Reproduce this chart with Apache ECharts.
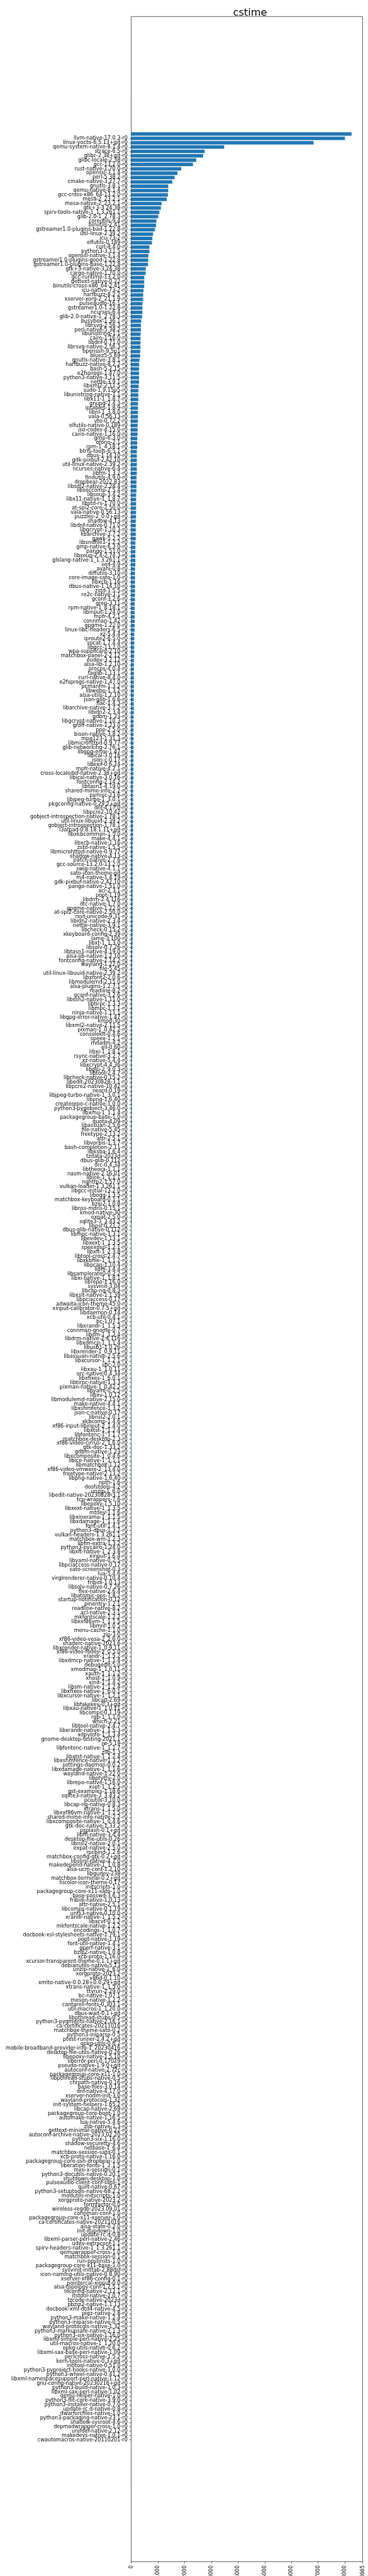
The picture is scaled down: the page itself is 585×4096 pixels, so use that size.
<!DOCTYPE html>
<html>
<head>
<meta charset="utf-8">
<script src="https://cdn.jsdelivr.net/npm/echarts@6/dist/echarts.min.js"></script>
<style>
html,body{margin:0;padding:0;background:#fff;}
#chart{width:585px;height:4096px;}
</style>
</head>
<body>
<div id="chart"></div>
<script>
const chartTitle = "cstime";

const packages = [
"rust-llvm-native-1.70.0-r0","llvm-native-17.0.3-r0","linux-yocto-6.5.13+git-r0","qemu-system-native-8.1.4-r0","strace-6.5-r0",
"glibc-2.38+git-r0","glibc-locale-2.38-r0","gcc-13.2.0-r0","rust-native-1.70.0-r0","openssl-3.1.4-r0",
"perl-5.38.2-r0","cmake-native-3.27.7-r0","gnutls-3.8.1-r0","qemu-native-8.1.4-r0","gcc-cross-x86_64-13.2.0-r0",
"mesa-2_23.2.1-r0","mesa-native-2_23.2.1-r0","gtk+3-3.24.38-r0","spirv-tools-native-1_1.3.261.1-r0","glib-2.0-1_2.78.3-r0",
"coreutils-9.4-r0","binutils-2.41-r0","gstreamer1.0-plugins-bad-1.22.8-r0","util-linux-2.39.2-r0","icu-73-2-r0",
"elfutils-0.189-r0","curl-8.4.0-r0","python3-3.11.5-r0","openssl-native-3.1.4-r0","gstreamer1.0-plugins-good-1.22.8-r0",
"gstreamer1.0-plugins-base-1.22.8-r0","gtk+3-native-3.24.38-r0","cargo-native-1.70.0-r0","gcc-runtime-13.2.0-r0","gettext-native-0.22-r0",
"binutils-cross-x86_64-2.41-r0","icu-native-73-2-r0","harfbuzz-8.2.2-r0","xserver-xorg-2_21.1.9-r0","pulseaudio-16.1-r0",
"gstreamer1.0-1.22.8-r0","ncurses-6.4-r0","glib-2.0-native-1_2.78.3-r0","busybox-1.36.1-r0","librsvg-2.56.3-r0",
"perl-native-5.38.2-r0","libunistring-1.1-r0","cairo-1.16.0-r0","libdnf-0.71.0-r0","librsvg-native-2.56.3-r0",
"openssh-9.5p1-r0","bluez5-5.69-r0","gnutls-native-3.8.1-r0","harfbuzz-native-8.2.2-r0","bash-5.2.15-r0",
"e2fsprogs-1.47.0-r0","python3-native-3.11.5-r0","nettle-3.9.1-r0","libxml2-2.11.5-r0","sudo-1.9.15p5-r0",
"libunistring-native-1.1-r0","libx11-1_1.8.7-r0","gnupg-2.4.3-r0","iptables-1.8.9-r0","libnl-1_3.8.0-r0",
"vala-0.56.13-r0","vte-0.72.2-r0","elfutils-native-0.189-r0","iso-codes-4.15.0-r0","cairo-native-1.16.0-r0",
"gmp-6.3.0-r0","ofono-2.1-r0","rpm-1_4.18.1-r0","btrfs-tools-6.5.1-r0","dbus-1.14.10-r0",
"gdk-pixbuf-2.42.10-r0","util-linux-native-2.39.2-r0","ncurses-native-6.4-r0","libfm-1.3.2-r0","findutils-4.9.0-r0",
"dropbear-2022.83-r0","libsdl2-native-2.28.4-r0","libseccomp-2.5.4-r0","libsoup-3.4.2-r0","libx11-native-1_1.8.7-r0",
"libstd-rs-1.70.0-r0","at-spi2-core-2.50.0-r0","vala-native-0.56.13-r0","puzzles-2_0.0+git-r0","shadow-4.13-r0",
"libdnf-native-0.71.0-r0","libgcrypt-1.10.3-r0","libarchive-3.7.2-r0","gawk-5.2.2-r0","libsndfile1-1.2.2-r0",
"gmp-native-6.3.0-r0","pango-1.51.0-r0","libsoup-2.4-2.74.3-r0","glslang-native-1_1.3.261.1-r0","sed-4.9-r0",
"avahi-0.8-r0","diffutils-3.10-r0","core-image-sato-1.0-r0","libxcb-1.16-r0","dbus-native-1.14.10-r0",
"zstd-1.5.5-r0","re2c-native-3.1-r0","gconf-3.2.6-r0","grep-3.11-r0","rpm-native-1_4.18.1-r0",
"libinput-1.24.0-r0","mpfr-4.2.1-r0","connman-1.42-r0","gpgme-1.22.0-r0","linux-libc-headers-6.5-r0",
"xz-5.4.4-r0","iproute2-6.5.0-r0","socat-1.7.4.4-r0","libgcc-13.2.0-r0","wpa-supplicant-2.10-r0",
"matchbox-panel-2-2.12-r0","eudev-3.2.12-r0","alsa-lib-1.2.10-r0","procps-4.0.4-r0","taglib-1.13.1-r0",
"curl-native-8.4.0-r0","e2fsprogs-native-1.47.0-r0","pcmanfm-1.3.2-r0","libwebp-1.3.2-r0","alsa-utils-1.2.10-r0",
"json-glib-1.6.6-r0","flac-1.4.3-r0","libarchive-native-3.7.2-r0","libidn2-2.3.4-r0","gdbm-1.23-r0",
"libgcrypt-native-1.10.3-r0","groff-native-1.23.0-r0","ppp-2.5.0-r0","bison-native-3.8.2-r0","mpg123-1.31.3-r0",
"libmicrohttpd-0.9.77-r0","glib-networking-2.76.1-r0","libgpg-error-1.47-r0","libical-3.0.16-r0","json-c-0.17-r0",
"libexif-0.6.24-r0","mpfr-native-4.2.1-r0","cross-localedef-native-2.38+git-r0","libical-native-3.0.16-r0","fontconfig-2.14.2-r0",
"libtasn1-4.19.0-r0","shared-mime-info-2.2-r0","psmisc-23.6-r0","libjpeg-turbo-1_3.0.1-r0","pkgconfig-native-0.29.2+git-r0",
"dnf-4.17.0-r0","libpcre2-10.42-r0","gobject-introspection-native-1.78.1-r0","util-linux-libuuid-2.39.2-r0","gobject-introspection-1.78.1-r0",
"l3afpad-0.8.18.1.11+git-r0","libxkbcommon-1.5.0-r0","make-4.4.1-r0","libxcb-native-1.16-r0","zstd-native-1.5.5-r0",
"libmicrohttpd-native-0.9.77-r0","shadow-native-4.13-r0","patch-native-2.7.6-r0","gcc-source-13.2.0-13.2.0-r0","swig-native-4.1.1-r0",
"sato-icon-theme-git-r0","m4-native-1.4.19-r0","gdk-pixbuf-native-2.42.10-r0","pango-native-1.51.0-r0","acl-2.3.1-r0",
"popt-1.19-r0","libdrm-2.4.116-r0","dtc-native-1.7.0-r0","gpgme-native-1.22.0-r0","at-spi2-core-native-2.50.0-r0",
"rxvt-unicode-9.31-r0","libidn2-native-2.3.4-r0","nettle-native-3.9.1-r0","libcheck-0.15.2-r0","xkeyboard-config-2.39-r0",
"lame-3.100-r0","libxt-1_1.3.0-r0","libsolv-0.7.26-r0","libtasn1-native-4.19.0-r0","alsa-lib-native-1.2.10-r0",
"fontconfig-native-2.14.2-r0","wayland-1.22.0-r0","file-5.45-r0","util-linux-libuuid-native-2.39.2-r0","libxfont2-2.0.6-r0",
"libmodulemd-2.15.0-r0","alsa-plugins-1.2.7.1-r0","readline-8.2-r0","gconf-native-3.2.6-r0","libssh2-native-1.11.0-r0",
"libtirpc-1.3.3-r0","libmpc-1.3.1-r0","ninja-native-1.11.1-r0","libgpg-error-native-1.47-r0","kmod-30-r0",
"libxml2-native-2.11.5-r0","pixman-1_0.42.2-r0","consolekit-0.4.6-r0","speex-1.2.1-r0","mdadm-4.2-r0",
"ell-0.60-r0","libxi-1_1.8.1-r0","rsync-native-3.2.7-r0","xz-native-5.4.4-r0","libxcrypt-4.4.36-r0",
"libglu-2_9.0.3-r0","libtool-2.4.7-r0","libcheck-native-0.15.2-r0","libedit-20230828-3.1-r0","libpcre2-native-10.42-r0",
"neard-0.19-r0","libjpeg-turbo-native-1_3.0.1-r0","libpng-1.6.40-r0","createrepo-c-native-1.0.0-r0","python3-pygobject-3.46.0-r0",
"libxmu-1_1.1.4-r0","packagegroup-base-1.0-r0","quota-4.09-r0","libassuan-2.5.6-r0","file-native-5.45-r0",
"freetype-2.13.2-r0","attr-2.5.1-r0","libvorbis-1.3.7-r0","bash-completion-2.11-r0","libksba-1.6.4-r0",
"tzdata-2023d-r0","dbus-glib-0.112-r0","orc-0.4.34-r0","libtheora-1.1.1-r0","nasm-native-2.16.01-r0",
"libice-1_1.1.1-r0","nghttp2-1.57.0-r0","vulkan-loader-1.3.261.1-r0","libgcc-initial-13.2.0-r0","libogg-1.3.5-r0",
"matchbox-keyboard-0.1.1-r0","bzip2-1.0.8-r0","libnss-mdns-0.15.1-r0","kmod-native-30-r0","expat-2.5.0-r0",
"sqlite3-3_3.43.2-r0","libpsl-0.21.2-r0","dbus-glib-native-0.112-r0","libmpc-native-1.3.1-r0","libevdev-1.13.1-r0",
"libxext-1_1.3.5-r0","speexdsp-1.2.1-r0","libxft-1_2.3.8-r0","libtool-cross-2.4.7-r0","libxkbfile-1_1.1.2-r0",
"libpcap-1.10.4-r0","libffi-3.4.4-r0","libsamplerate0-0.2.2-r0","libxi-native-1_1.8.1-r0","librepo-1.16.0-r0",
"sysvinit-3.04-r0","libcap-ng-0.8.3-r0","libxslt-native-1.1.39-r0","libpciaccess-0.17-r0","adwaita-icon-theme-45.0-r0",
"xinput-calibrator-0.7.5+git-r0","libdaemon-0.14-r0","xcb-util-0.4.1-r0","bc-1.07.1-r0","libxrandr-1_1.5.3-r0",
"connman-gnome-0.7-r0","libsm-1_1.2.4-r0","libdrm-native-2.4.116-r0","libxdmcp-1_1.1.4-r0","libusb1-1.0.26-r0",
"libxrender-1_0.9.11-r0","libassuan-native-2.5.6-r0","libxcursor-1_1.2.1-r0","sbc-2.0-r0","libxau-1_1.0.11-r0",
"orc-native-0.4.34-r0","libxfixes-1_6.0.1-r0","libtirpc-native-1.3.3-r0","pixman-native-1_0.42.2-r0","libyaml-0.2.5-r0",
"libxv-1.0.12-r0","libmodulemd-native-2.15.0-r0","make-native-4.4.1-r0","libxshmfence-1.3.2-r0","json-c-native-0.17-r0",
"libnsl2-2.0.1-r0","xkbcomp-1.4.6-r0","xf86-input-libinput-2_1.4.0-r0","libxtst-1_1.2.4-r0","libfontenc-1_1.1.7-r0",
"matchbox-desktop-2.3-r0","xf86-video-cirrus-2_1.6.0-r0","gtk-doc-1.33.2-r0","gdbm-native-1.23-r0","libxcomposite-1_0.4.6-r0",
"libice-native-1_1.1.1-r0","libmatchbox-1.12-r0","xf86-video-vmware-2_13.4.0-r0","freetype-native-2.13.2-r0","libpng-native-1.6.40-r0",
"npth-1.6-r0","dosfstools-4.2-r0","unzip-1_6.0-r0","libedit-native-20230828-3.1-r0","tcp-wrappers-7.6-r0",
"libepoxy-1.5.10-r0","libxext-native-1_1.3.5-r0","mtdev-1.1.6-r0","libxinerama-1_1.1.5-r0","libxdamage-1_1.1.6-r0",
"font-util-1.4.1-r0","python3-dbus-1.3.2-r0","vulkan-headers-1.3.261.1-r0","matchbox-wm-1.2.3-r0","libfm-extra-1.3.2-r0",
"python3-pycairo-1.24.0-r0","libxft-native-1_2.3.8-r0","xinput-1.6.4-r0","libyaml-native-0.2.5-r0","libpciaccess-native-0.17-r0",
"sato-screenshot-0.3-r0","lua-5.4.6-r0","virglrenderer-native-0.10.4-r0","fribidi-1.0.13-r0","libsolv-native-0.7.26-r0",
"flex-native-2.6.4-r0","libatomic-ops-7.8.2-r0","startup-notification-0.12-r0","pinentry-1.2.1-r0","readline-native-8.2-r0",
"acl-native-2.3.1-r0","mkfontscale-1.2.2-r0","libxxf86vm-1_1.1.5-r0","libmnl-1.0.5-r0","menu-cache-1.1.0-r0",
"zip-3.0-r0","xf86-video-vesa-2_2.6.0-r0","shaderc-native-2023.6-r0","libxrender-native-1_0.9.11-r0","xf86-video-fbdev-2_0.5.0-r0",
"xrandr-1_1.5.2-r0","libxdmcp-native-1_1.1.4-r0","debugedit-5.0-r0","xmodmap-1_1.0.11-r0","xauth-1_1.1.2-r0",
"xhost-1_1.0.9-r0","xinit-1_1.4.2-r0","libsm-native-1_1.2.4-r0","libxfixes-native-1_6.0.1-r0","libxcursor-native-1_1.2.1-r0",
"libcap-2.69-r0","libfakekey-0.3+git-r0","libxau-native-1_1.0.11-r0","libcomps-0.1.19-r0","rgb-1_1.1.0-r0",
"which-2.21-r0","libtool-native-2.4.7-r0","libxrandr-native-1_1.5.3-r0","xdpyinfo-1_1.3.4-r0","gnome-desktop-testing-2021.1-r0",
"iw-5.19-r0","libfontenc-native-1_1.1.7-r0","zlib-1.3-r0","libxtst-native-1_1.2.4-r0","libxshmfence-native-1.3.2-r0",
"settings-daemon-0.0.2-r0","libxdamage-native-1_1.1.6-r0","wayland-native-1.22.0-r0","libptytty-2.0-r0","librepo-native-1.16.0-r0",
"xset-1_1.2.5-r0","gst-examples-1.18.6-r0","sqlite3-native-3_3.43.2-r0","pciutils-3.10.0-r0","libcap-ng-native-0.8.3-r0",
"xtrans-1_1.5.0-r0","libxxf86vm-native-1_1.1.5-r0","shared-mime-info-native-2.2-r0","libxcomposite-native-1_0.4.6-r0","gtk-doc-native-1.33.2-r0",
"psplash-0.1+git-r0","libffi-native-3.4.4-r0","desktop-file-utils-0.26-r0","libnsl2-native-2.0.1-r0","expat-native-2.5.0-r0",
"rpcbind-1.2.6-r0","matchbox-config-gtk-0.2+git-r0","libslirp-native-4.7.0-r0","makedepend-native-1_1.0.8-r0","alsa-ucm-conf-1.2.10-r0",
"libgudev-238-r0","matchbox-terminal-0.2+git-r0","hicolor-icon-theme-0.17-r0","initscripts-1.0-r0","packagegroup-core-x11-sato-1.0-r0",
"base-passwd-3.6.3-r0","fribidi-native-1.0.13-r0","attr-native-2.5.1-r0","libcomps-native-0.1.19-r0","unfs3-native-0.10.0-r0",
"xrandr-native-1_1.5.2-r0","libxcvt-0.1.2-r0","mkfontscale-native-1.2.2-r0","encodings-1_1.0.7-r0","docbook-xsl-stylesheets-native-1.79.1-r0",
"popt-native-1.19-r0","font-util-native-1.4.1-r0","gperf-native-3.1-r0","bzip2-native-1.0.8-r0","xcb-proto-1.16.0-r0",
"xcursor-transparent-theme-0.1.1+git-r0","debianutils-native-5.13-r0","unzip-native-1_6.0-r0","xorgproto-2023.2-r0","v86d-0.1.10-r0",
"xmlto-native-0.0.28+0.0.29+git-r0","xtrans-native-1_1.5.0-r0","ttyrun-2.29.0-r0","bc-native-1.07.1-r0","meson-native-1.2.2-r0",
"cantarell-fonts-0.303.1-r0","util-macros-1_1.20.0-r0","dbus-wait-0.1+git-r0","libpthread-stubs-0.5-r0","python3-pygments-native-2.16.1-r0",
"ca-certificates-20211016-r0","matchbox-theme-sato-0.2-r0","python3-iniparse-0.5-r0","ptest-runner-2.4.2+git-r0","opkg-utils-0.6.2-r0",
"mobile-broadband-provider-info-1_20230416-r0","desktop-file-utils-native-0.26-r0","libepoxy-native-1.5.10-r0","liberror-perl-0.17029-r0","pseudo-native-1.9.0+git-r0",
"autoconf-native-2.72c-r0","packagegroup-core-x11-1.0-r0","libpthread-stubs-native-0.5-r0","chrpath-native-0.16-r0","base-files-3.0.14-r0",
"dnf-native-4.17.0-r0","xserver-nodm-init-3.0-r0","wayland-protocols-1.32-r0","init-system-helpers-1.65.2-r0","libcap-native-2.69-r0",
"packagegroup-core-boot-1.0-r0","automake-native-1.16.5-r0","lua-native-5.4.6-r0","zlib-native-1.3-r0","gettext-minimal-native-0.22-r0",
"autoconf-archive-native-2023.02.20-r0","python3-six-1.16.0-r0","shadow-securetty-4.6-r0","netbase-1_6.4-r0","matchbox-session-sato-0.1-r0",
"xcb-proto-native-1.16.0-r0","packagegroup-core-ssh-dropbear-1.0-r0","liberation-fonts-1_2.1.5-r0","mini-x-session-0.1-r0","python3-docutils-native-0.20.1-r0",
"shutdown-desktop-1.0-r0","pulseaudio-client-conf-sato-1-r0","quilt-native-0.67-r0","python3-setuptools-native-68.2.2-r0","modutils-initscripts-1.0-r0",
"xorgproto-native-2023.2-r0","formfactor-0.0-r0","wireless-regdb-2023.09.01-r0","connman-conf-1.0-r0","packagegroup-core-x11-xserver-1.0-r0",
"ca-certificates-native-20211016-r0","alsa-state-0.2.0-r0","init-ifupdown-1.0-r0","update-rc.d-0.8-r0","libxml-parser-perl-native-2.46-r0",
"udev-extraconf-1.1-r0","spirv-headers-native-1_1.3.261.1-r0","qemuwrapper-cross-1.0-r0","matchbox-session-0.1-r0","run-postinsts-1.0-r0",
"packagegroup-core-x11-base-1.0-r0","sysvinit-inittab-2.88dsf-r0","icon-naming-utils-native-0.8.90-r0","xserver-xf86-config-0.1-r0","pointercal-xinput-0.0-r0",
"alsa-topology-conf-1.2.5.1-r0","ldconfig-native-2.12.1-r0","itstool-native-2.0.7-r0","tzcode-native-2023d-r0","pbzip2-native-1.1.13-r0",
"docbook-xml-dtd4-native-4.5-r0","pigz-native-2.8-r0","python3-mako-native-1.2.4-r0","python3-iniparse-native-0.5-r0","wayland-protocols-native-1.32-r0",
"python3-markupsafe-native-2.1.3-r0","python3-six-native-1.16.0-r0","libxml-simple-perl-native-2.25-r0","util-macros-native-1_1.20.0-r0","opkg-utils-native-0.6.2-r0",
"libxml-sax-base-perl-native-1.09-r0","perlcross-native-1.5.2-r0","kern-tools-native-0.3+git-r0","intltool-native-0.51.0-r0","python3-pyproject-hooks-native-1.0.0-r0",
"python3-wheel-native-0.41.2-r0","libxml-namespacesupport-perl-native-1.12-r0","gnu-config-native-20230216+git-r0","python3-build-native-1.0.3-r0","libxml-sax-perl-native-1.02-r0",
"qemu-helper-native-1.0-r0","python3-flit-core-native-3.9.0-r0","python3-installer-native-0.7.0-r0","update-rc.d-native-0.8-r0","dwarfsrcfiles-native-1.0-r0",
"python3-packaging-native-23.1-r0","shadow-sysroot-4.6-r0","depmodwrapper-cross-1.0-r0","unifdef-native-2.12-r0","makedevs-native-1.0.1-r0",
"cwautomacros-native-20110201-r0","texinfo-dummy-native-1.0-r0"
];

const cstime = [
8252,8006,6831,3483,2751,2695,2437,2314,1872,1733,
1623,1540,1388,1386,1374,1332,1139,1111,1056,1014,
945,931,890,821,793,779,683,681,642,640,
627,545,543,490,489,488,461,448,446,421,
420,419,406,378,365,363,351,350,349,348,
337,336,309,296,295,295,294,293,281,268,
267,266,255,254,254,253,253,241,240,239,
227,226,225,213,212,212,211,211,210,199,
198,197,197,185,184,184,183,183,182,171,
171,170,170,169,158,157,157,156,156,155,
144,143,143,142,142,141,141,140,130,129,
129,128,128,127,127,116,115,115,114,114,
113,102,101,101,100,100,99,99,98,98,
97,97,97,96,88,88,88,87,87,87,
86,86,86,85,85,85,84,84,84,75,
74,74,74,73,73,73,72,72,72,71,
71,71,70,61,61,60,60,60,59,59,
59,58,58,58,57,57,57,56,56,56,
55,55,55,54,54,54,53,53,47,46,
45,43,43,42,42,42,41,41,41,40,
40,40,39,39,39,38,38,38,37,37,
37,36,36,31,31,31,30,30,30,30,
29,29,29,29,28,28,28,28,27,27,
27,27,26,26,26,26,25,25,25,25,
25,24,24,23,23,22,22,22,21,21,
21,13,13,13,13,12,12,12,12,12,
12,11,11,11,11,11,11,11,10,10,
10,10,10,10,10,10,9,9,9,9,
9,9,9,9,9,8,8,8,8,8,
8,8,8,8,8,8,8,8,7,7,
7,7,7,7,7,7,6,6,6,6,
6,6,6,6,6,6,6,5,5,5,
5,5,5,5,5,5,5,5,5,5,
4,4,4,4,4,4,4,4,4,4,
4,4,0,0,0,0,0,0,0,0,
0,0,0,0,0,0,0,0,0,0,
0,0,0,0,0,0,0,0,0,0,
0,0,0,0,0,0,0,0,0,0,
0,0,0,0,0,0,0,0,0,0,
0,0,0,0,0,0,0,0,0,0,
0,0,0,0,0,0,0,0,0,0,
0,0,0,0,0,0,0,0,0,0,
0,0,0,0,0,0,0,0,0,0,
0,0,0,0,0,0,0,0,0,0,
0,0,0,0,0,0,0,0,0,0,
0,0,0,0,0,0,0,0,0,0,
0,0,0,0,0,0,0,0,0,0,
0,0,0,0,0,0,0,0,0,0,
0,0,0,0,0,0,0,0,0,0,
0,0,0,0,0,0,0,0,0,0,
0,0,0,0,0,0,0,0,0,0,
0,0,0,0,0,0,0,0,0,0,
0,0,0,0,0,0,0,0,0,0,
0,0
];

const xTicks = [0, 1000, 2000, 3000, 4000, 5000, 6000, 7000, 8000];

// empty slots above and below the bars (matplotlib's default 5% axis margin)
const PAD = 27;
const padNames = (tag) => Array.from({length: PAD}, (_, i) => '\u0000' + tag + i);
const yCats = [...padNames('t'), ...packages, ...padNames('b')];
const seriesData = [...Array(PAD).fill('-'), ...cstime, ...Array(PAD).fill('-')];
const isReal = (idx) => idx >= PAD && idx < PAD + packages.length;

const S = 0.585;
const FONT = 'DejaVu Sans';
const chart = echarts.init(document.getElementById('chart'), null, {renderer: 'canvas'});
chart.setOption({
  animation: false,
  backgroundColor: '#ffffff',
  title: {
    text: chartTitle,
    left: 392.5,
    top: 8,
    textAlign: 'center',
    textStyle: {fontFamily: FONT, fontSize: 27.8 * S, fontWeight: 'normal', color: '#000'}
  },
  grid: {
    left: 356.5 * S, right: 1000 * S - 985.3 * S, top: 45 * S, bottom: 7000 * S - 6961 * S,
    show: true, borderColor: '#000', borderWidth: 0.65, backgroundColor: 'transparent',
    containLabel: false, outerBoundsMode: 'none'
  },
  xAxis: {
    type: 'value',
    min: xTicks[0],
    max: 8665,
    interval: xTicks[1] - xTicks[0],
    axisLine: {show: false},
    splitLine: {show: false},
    axisTick: {show: true, length: 4.86 * S, lineStyle: {color: '#000', width: 0.65}},
    axisLabel: {
      rotate: 90, margin: 9.7 * S, color: '#000', fontFamily: FONT, fontSize: 13.9 * S,
      formatter: (v) => String(v)
    }
  },
  yAxis: {
    type: 'category',
    data: yCats,
    inverse: true,
    boundaryGap: false,
    axisLine: {show: false},
    splitLine: {show: false},
    axisTick: {show: true, interval: isReal, length: 4.86 * S, lineStyle: {color: '#000', width: 0.65}},
    axisLabel: {
      interval: isReal, margin: 9.7 * S, color: '#000', fontFamily: FONT, fontSize: 13.9 * S,
      formatter: (v) => v.charAt(0) === '\u0000' ? '' : v
    }
  },
  series: [{
    type: 'bar',
    data: seriesData,
    barWidth: '80%',
    itemStyle: {color: '#1f77b4'},
    silent: true
  }]
});
</script>
</body>
</html>
